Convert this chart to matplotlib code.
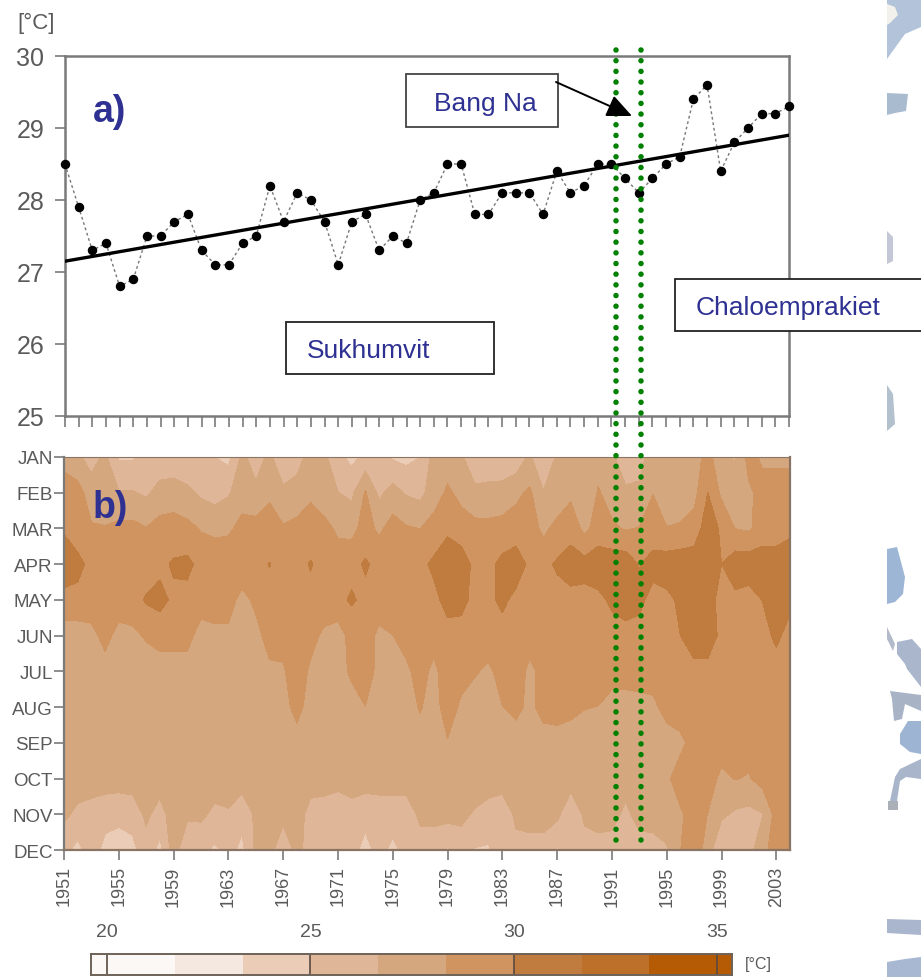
import numpy as np
import matplotlib
matplotlib.use("Agg")
import matplotlib.pyplot as plt
from matplotlib.patches import Rectangle, Polygon

plt.rcParams['font.family'] = ['Liberation Sans', 'DejaVu Sans']

W, H = 921, 978
years = list(range(1951, 2005))
annual = [28.5, 27.9, 27.3, 27.4, 26.8, 26.9, 27.5, 27.5, 27.7, 27.8,
          27.3, 27.1, 27.1, 27.4, 27.5, 28.2, 27.7, 28.1, 28.0, 27.7,
          27.1, 27.7, 27.8, 27.3, 27.5, 27.4, 28.0, 28.1, 28.5, 28.5,
          27.8, 27.8, 28.1, 28.1, 28.1, 27.8, 28.4, 28.1, 28.2, 28.5,
          28.5, 28.3, 28.1, 28.3, 28.5, 28.6, 29.4, 29.6, 28.4, 28.8,
          29.0, 29.2, 29.2, 29.3]
trend_years = [1951, 2004]
trend_vals = [27.15, 28.9]
month_labels = ['JAN', 'FEB', 'MAR', 'APR', 'MAY', 'JUN', 'JUL', 'AUG', 'SEP', 'OCT', 'NOV', 'DEC']
year_ticks = [1951, 1955, 1959, 1963, 1967, 1971, 1975, 1979, 1983, 1987, 1991, 1995, 1999, 2003]

jan = [27.5, 27, 26, 27, 24.8, 24.8, 25.5, 25.5, 25.5, 25.5, 25.5, 25, 24.5, 27, 26, 27, 25.5, 25.8, 27.5, 27,
       25.5, 24.5, 25.5, 25.5, 24.8, 24.5, 25, 27.3, 27.5, 27, 25, 25, 25, 25.5, 27, 24.8, 27, 27.5, 27.5, 27.5,
       27, 25.5, 26, 27.5, 27, 27, 27.5, 29, 27, 26.5, 29, 28, 28, 28]
feb = [29.5, 29, 27.5, 27.5, 26.8, 26.8, 26.4, 27.3, 27.5, 27, 26.4, 26, 26.5, 27.5, 27, 28, 27, 27.5, 28, 27.2,
       26.7, 26.3, 28.5, 26.3, 27.3, 26.5, 26.2, 27.5, 28.6, 27.9, 27.2, 27.4, 27.5, 28.0, 28.6, 26.8, 27, 28, 26.8, 28.5,
       27.6, 27, 27, 28.3, 27, 27, 27.8, 30, 28, 27.8, 28, 29, 29, 29]
mar = [29.8, 29, 28.5, 28.4, 28.8, 28.8, 28.4, 28.9, 29, 28.8, 28.2, 27.9, 28, 28.9, 29, 29.2, 28.5, 28.7, 29.2, 28.9,
       28, 27.8, 29, 28, 29, 28.5, 28.3, 29, 29.7, 29, 28.8, 28.7, 28.8, 29, 29.2, 27.9, 28.9, 29.3, 27.9, 29,
       28.6, 28.2, 28.4, 28.9, 28.4, 28.6, 29, 31, 29.7, 28.3, 28.1, 29, 29, 29.5]
apr = [31, 30.5, 29.5, 29.5, 29.5, 29.3, 29, 29.6, 30.2, 30.4, 29.5, 29.5, 29.6, 29.5, 29.6, 30.05, 29.5, 29.5, 30.1, 29.5,
       29.2, 29.5, 30.2, 29.5, 29.9, 29.6, 29.6, 30.3, 31, 31, 29.5, 29.5, 30.5, 31, 29.6, 29.6, 30.2, 30.8, 30.6, 31,
       31, 31, 29.9, 30.7, 30.9, 31, 31, 31.2, 30, 31, 31, 31, 31, 31.3]
may = [29.5, 29.5, 29.5, 29.3, 29.5, 29.2, 30.2, 30.5, 29.7, 29.5, 29.3, 29, 29, 27.8, 28.7, 29.5, 29.5, 29.6, 29.6, 29.6,
       29.6, 30.2, 29.6, 29.6, 29.6, 29.6, 29.6, 29.6, 30.5, 30.4, 29.6, 29.6, 30.4, 29.5, 29.5, 29.5, 29.5, 29.5, 29.5, 29.6,
       30.3, 30.7, 30.5, 29.3, 29.6, 30.3, 30.6, 30.6, 29.5, 29.6, 29.3, 30.05, 30.5, 30.5]
jun = [27.5, 27.5, 27.7, 29, 27.6, 28, 28.5, 29, 29, 29, 27.5, 28, 28, 27.5, 27.8, 29, 29, 29.2, 29, 27.9,
       27.5, 29, 29.4, 27.8, 28.3, 29, 29, 29, 29.5, 29.5, 29.4, 29.3, 29.3, 29.3, 29.3, 29.3, 29.3, 29.3, 29.3, 29.3,
       29.4, 29.5, 29.3, 29.2, 29.2, 30, 31.5, 31.5, 29.3, 29.3, 29.3, 29.3, 30.4, 29.3]
jul = [27.5, 27.5, 27.5, 27.5, 27.5, 27.5, 27.5, 27.5, 27.5, 27.5, 27.5, 27.5, 27.5, 27.5, 27.5, 28, 28.1, 29.5, 28, 27.6,
       27.5, 28.7, 29.4, 27.7, 27.7, 28, 29, 27.9, 29.3, 29, 28.5, 28, 29, 29.5, 27.8, 29, 29.3, 29.2, 29.2, 29.2,
       29.2, 29.2, 29.2, 29.2, 29.2, 29.2, 29.2, 29.2, 29.2, 29.2, 29.2, 29.2, 29.2, 29.2]
aug = [27.5, 27.5, 27.5, 27.5, 27.5, 27.5, 27.5, 27.5, 27.5, 27.5, 27.5, 27.5, 27.5, 27.5, 27.5, 27.5, 27.6, 29, 27.5, 27.5,
       27.4, 27.5, 28.3, 27.4, 27.4, 27.5, 28.5, 27.5, 29.3, 28, 27.5, 27.5, 28.3, 28.8, 27.9, 29, 29.2, 28.8, 28.4, 28.3,
       27.5, 27.5, 27.7, 27.9, 29, 29.3, 29.3, 29.3, 29.3, 29.3, 29.3, 29.3, 29.3, 29.3]
sep = [27.5, 27.5, 27.5, 27.5, 27.5, 27.5, 27.5, 27.5, 27.5, 27.5, 27.5, 27.5, 27.5, 27.5, 27.5, 27.5, 27.5, 27.5, 27.5, 27.5,
       27.5, 27.5, 27.5, 27.5, 27.5, 27.5, 27.5, 27.5, 28.2, 27.8, 27.5, 27.5, 27.5, 27.5, 27.5, 27.5, 27.5, 27.5, 27.5, 27.5,
       27.5, 27.5, 27.5, 27.5, 27.5, 27.9, 29, 29, 29, 29.2, 29, 29.2, 29.2, 29.2]
oct_ = [27.5, 27.5, 27.5, 27.5, 27.5, 27.5, 27.5, 27.5, 27.5, 27.5, 27.5, 27.5, 27.5, 27.5, 27.5, 27.5, 27.5, 27.5, 27.5, 27.5,
        27.5, 27.5, 27.5, 27.5, 27.5, 27.5, 27.5, 27.5, 27.5, 27.5, 27.5, 27.5, 27.5, 27.5, 27.5, 27.5, 27.5, 27.5, 27.5, 27.5,
        27.5, 27.5, 27.5, 27.5, 28, 29.2, 29.2, 29, 28, 28.4, 28.2, 29, 29.2, 29.2]
nov = [27, 26.3, 26, 25.6, 25.4, 25.7, 27, 26, 27.5, 27, 27, 26.3, 26.5, 25.5, 27, 27.5, 27.5, 27.5, 26, 25.8,
       25.2, 26, 25.5, 25.7, 25.8, 25.8, 27, 27.3, 27.3, 27, 26.5, 26, 25.6, 27, 27.4, 27.4, 27.1, 25.3, 27, 27.4,
       27.4, 26.2, 27.4, 27.4, 27.5, 28.1, 29, 28.3, 27, 26.4, 26.2, 26.6, 29, 29]
dec = [25.5, 24.5, 25.8, 24.5, 24.3, 24.5, 26, 24.5, 27.5, 25.3, 25.5, 24.7, 25.5, 24.6, 27, 27.6, 24.8, 27.5, 25.5, 25.5,
       25.5, 25.5, 24.5, 25.5, 24.6, 25.5, 26, 25.5, 24.8, 26, 24.9, 24.8, 26.3, 26.2, 26, 26, 24.8, 25.5, 26, 26,
       25.8, 25.8, 25.8, 26, 26.5, 28.3, 29.5, 27.5, 25, 26, 26, 27.9, 29, 29]
monthly = [jan, feb, mar, apr, may, jun, jul, aug, sep, oct_, nov, dec]

levels = [21.67, 23.33, 25.0, 26.67, 28.33, 30.0, 31.67, 33.33]
band_colors = ['#FBF8F6', '#F5E8E0', '#EBCDB7', '#DFB698', '#D5A77F', '#CF9460', '#BF7C3E', '#BD7029', '#B55A05']
cbar_edges = [19.6, 21.67, 23.33, 25.0, 26.67, 28.33, 30.0, 31.67, 33.33, 35.37]
cbar_ticks = [20, 25, 30, 35]

GREY = '#7A7A7A'
TXT = '#5A5A5A'
BLUE = '#2E3192'


def axpx(l, t, r, b):
    return [l / W, 1 - b / H, (r - l) / W, (b - t) / H]


fig = plt.figure(figsize=(W / 100, H / 100), dpi=100, facecolor='white')

# a) annual series
ax1 = fig.add_axes(axpx(65, 57, 789, 417))
ax1.plot(years, annual, color='#777777', lw=1.0, ls=(0, (2, 2)), zorder=2)
ax1.plot(years, annual, ls='none', marker='o', ms=5.8, mfc='black', mec='black', clip_on=False, zorder=3)
ax1.plot(trend_years, trend_vals, color='black', lw=2.4, zorder=4)
ax1.set_xlim(1951, 2004)
ax1.set_ylim(25, 30)
ax1.set_yticks([25, 26, 27, 28, 29, 30])
ax1.set_xticks(years)
ax1.set_xticklabels([])
ax1.tick_params(axis='y', length=7, width=1.2, color=GREY, labelsize=18, labelcolor=TXT, pad=8)
ax1.tick_params(axis='x', length=8, width=1.2, color=GREY)
for s in ax1.spines.values():
    s.set_color(GREY)
    s.set_linewidth(1.8)

# b) monthly contours
ax2 = fig.add_axes(axpx(64, 458, 790, 851))
ax2.contourf(years, np.arange(12), np.array(monthly), levels=levels, colors=band_colors, extend='both')
ax2.set_xlim(1951, 2004)
ax2.set_ylim(11, 0)
ax2.set_yticks(np.arange(12))
ax2.set_yticklabels(month_labels)
ax2.set_xticks(year_ticks)
ax2.set_xticklabels(year_ticks, rotation=90)
ax2.tick_params(axis='y', length=7, width=1.2, color=GREY, labelsize=13.5, labelcolor=TXT, pad=1)
ax2.tick_params(axis='x', length=7, width=1.2, color=GREY, labelsize=13, labelcolor=TXT, pad=4)
for side, s in ax2.spines.items():
    s.set_color('#8A7565' if side != 'left' else GREY)
    s.set_linewidth(1.6)
ax2.spines['top'].set_linewidth(0.8)

# colour bar
cax = fig.add_axes(axpx(91, 955, 732, 976))
cax.pcolormesh(cbar_edges, [0, 1], np.arange(len(band_colors)).reshape(1, -1),
               cmap=matplotlib.colors.ListedColormap(band_colors), shading='flat')
cax.set_xlim(cbar_edges[0], cbar_edges[-1])
cax.set_ylim(0, 1)
cax.set_yticks([])
cax.set_xticks(cbar_ticks)
cax.xaxis.tick_top()
cax.tick_params(axis='x', length=0, labelsize=14, labelcolor=TXT, pad=10)
for t in cbar_ticks:
    cax.axvline(t, color='#5A4A40', lw=1.2)
for s in cax.spines.values():
    s.set_color('#6E6258')
    s.set_linewidth(1.4)

# overlay in picture coordinates
ov = fig.add_axes([0, 0, 1, 1], zorder=10)
ov.set_xlim(0, W)
ov.set_ylim(H, 0)
ov.axis('off')
ov.patch.set_alpha(0)

# faded map fragment at the right edge
map_bits = [
    ([887, 921, 921, 905, 887], [0, 0, 28, 35, 60], '#B2C3DA'),
    ([887, 895, 898, 890, 887], [5, 8, 16, 24, 26], '#F3F1EC'),
    ([887, 908, 906, 895, 887], [94, 95, 112, 114, 116], '#A9BBCE'),
    ([887, 893, 893, 887], [232, 238, 262, 265], '#C3C7D6'),
    ([887, 893, 895, 887], [386, 395, 425, 432], '#B3C0CE'),
    ([887, 897, 905, 903, 895, 887], [550, 548, 578, 595, 603, 605], '#9DB6D6'),
    ([887, 895, 893, 887], [628, 645, 652, 640], '#B3BAC9'),
    ([897, 912, 921, 921, 907, 905, 897], [643, 640, 650, 688, 670, 665, 655], '#A9B6CC'),
    ([890, 921, 921, 905, 902, 894, 892], [692, 696, 712, 705, 720, 722, 700], '#A9B3C6'),
    ([900, 908, 921, 921, 910, 900], [735, 722, 722, 755, 753, 745], '#9DB4D2'),
    ([890, 895, 900, 921, 921, 906, 900, 897, 893], [802, 778, 770, 760, 780, 778, 782, 802, 802], '#A8B5CA'),
    ([888, 898, 898, 888], [802, 802, 811, 811], '#ABB0B8'),
    ([887, 921, 921, 887], [920, 921, 936, 934], '#AAB6CE'),
    ([887, 905, 921, 921, 887], [963, 960, 958, 978, 978], '#A9B8D2'),
]
for xs, ys, c in map_bits:
    ov.add_patch(Polygon(list(zip(xs, ys)), closed=True, fc=c, ec='none', zorder=1))

# guide lines of dots
DOT_LW = 4.0
for gx in (616, 641):
    ov.plot([gx, gx], [50.5, 843], color='#008000', lw=DOT_LW,
            ls=(0, (0.001, 10.67 * 0.72 / DOT_LW)), dash_capstyle='round', zorder=3)

# labelled boxes
boxes = [(406, 75, 558, 128, 'Bang Na', 434, '#444444'),
         (286, 323, 494, 375, 'Sukhumvit', 307, '#222222'),
         (675, 280, 925, 332, 'Chaloemprakiet', 696, '#222222')]
for l, t, r, b, label, tx, ec in boxes:
    ov.add_patch(Rectangle((l, t), r - l, b - t, fc='white', ec=ec, lw=1.3, zorder=4, clip_on=True))
    ov.text(tx, (t + b) / 2 + 2, label, color=BLUE, fontsize=19, va='center', ha='left', zorder=5)

ov.annotate('', xy=(632, 117), xytext=(556, 83), zorder=6,
            arrowprops=dict(arrowstyle='-|>,head_length=0.85,head_width=0.38', color='black', lw=1.4,
                            shrinkA=0, shrinkB=0, mutation_scale=18))

ov.text(93, 112, 'a)', color=BLUE, fontsize=27, fontweight='bold', va='center', ha='left', zorder=6)
ov.text(93, 508, 'b)', color=BLUE, fontsize=27, fontweight='bold', va='center', ha='left', zorder=6)
ov.text(17, 23, '[°C]', color=TXT, fontsize=16, va='center', ha='left')
ov.text(745, 965, '[°C]', color=TXT, fontsize=11.5, va='center', ha='left')

fig.savefig('out.png', dpi=100)
